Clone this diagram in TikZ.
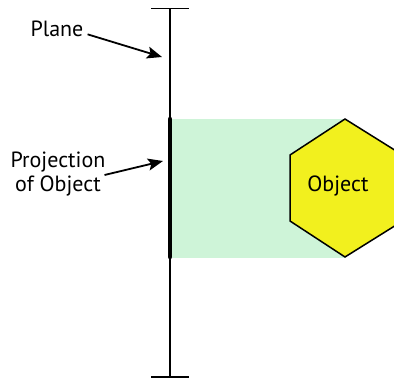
\documentclass[tikz,border=0pt]{standalone}
\usepackage{fontspec}
\setmainfont{PT Sans}
\usetikzlibrary{arrows.meta}
\definecolor{projgreen}{RGB}{206,244,216}
\definecolor{objyellow}{RGB}{242,240,30}
\begin{document}
\begin{tikzpicture}[x=1pt,y=-1pt,
  lbl/.style={font=\fontsize{22}{24.5}\selectfont, inner sep=0pt, align=center},
  arr/.style={line width=1.8pt, -{Stealth[length=15pt,width=12pt,inset=3pt]}},
  planeline/.style={line width=1.6pt},
  projline/.style={line width=4.5pt, line cap=round}]
\useasboundingbox (0,0) rectangle (394,379);
% projection area
\fill[projgreen] (172,119) rectangle (346,258);
% plane
\coordinate (ptop) at (170,8.5);
\coordinate (pbot) at (170,377);
\draw[planeline] (ptop) -- (pbot);
\draw[planeline] (151,8.5) -- (189,8.5);
\draw[planeline] (151,377) -- (189,377);
% projection of object
\coordinate (prtop) at (170,119);
\coordinate (prbot) at (170,257);
\draw[projline] (prtop) -- (prbot);
% object
\begin{scope}
\clip (0,0) rectangle (394,379);
\draw[line width=1.5pt, fill=objyellow, line join=miter]
  (345,119) -- (290,155) -- (290,221) -- (345,257) -- (401,222) -- (401,154) -- cycle;
\end{scope}
\node[lbl] (obj) at (338,186) {Object};
% labels
\node[lbl, anchor=base] (plane) at (57,37) {Plane};
\node[lbl] (proj) at (58,174) {Projection\\of Object};
\coordinate (planetip) at (162,57);
\coordinate (projtip) at (163,161);
\draw[arr] (plane.east) ++(4,5) -- (planetip);
\draw[arr] (proj.east) ++(-1,1) -- (projtip);
\end{tikzpicture}
\end{document}
